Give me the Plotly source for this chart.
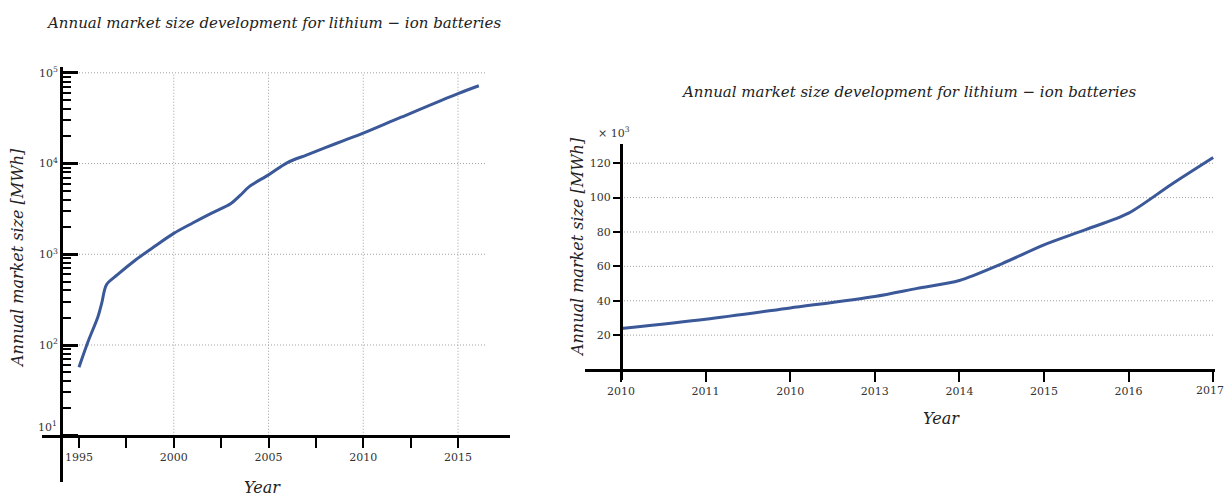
import plotly.graph_objects as go

# ---- data ---------------------------------------------------------------
# Long-run market size (MWh), logarithmic panel
years_long = [1995.0, 1995.5, 1996.0, 1996.2, 1996.45, 1997.0, 1998.0, 1999.0,
              2000.0, 2001.0, 2002.0, 2003.0, 2003.5, 2004.0, 2005.0, 2006.0,
              2007.0, 2008.0, 2009.0, 2010.0, 2012.0, 2015.0, 2016.1]
size_long = [57, 112, 205, 290, 462, 588, 870, 1225,
             1700, 2210, 2840, 3600, 4450, 5600, 7500, 10250,
             12400, 15000, 18000, 21600, 32400, 59000, 72000]

# Recent market size (thousand MWh), linear panel
years_recent = [2010, 2011, 2012, 2013, 2013.5, 2014, 2014.5, 2015, 2015.5, 2016, 2016.5, 2017]
size_recent = [23.8, 29.2, 35.8, 42.5, 47.2, 51.8, 61.5, 72.5, 81.5, 91.0, 107.5, 123.3]

# Tick values and labels
long_year_ticks = [1995, 1997.5, 2000, 2002.5, 2005, 2007.5, 2010, 2012.5, 2015]
long_year_text = ["1995", "", "2000", "", "2005", "", "2010", "", "2015"]
long_size_ticks = [10, 100, 1000, 10000, 100000]
long_size_text = ["", "10<sup>2</sup>", "10<sup>3</sup>", "10<sup>4</sup>", "10<sup>5</sup>"]
long_grid_years = [2000, 2005, 2010, 2015]
recent_year_ticks = [2010, 2011, 2012, 2013, 2014, 2015, 2016, 2017]
recent_year_text = ["2010", "2011", "2010", "2013", "2014", "2015", "2016", "2017"]
recent_size_ticks = [20, 40, 60, 80, 100, 120]

TITLE = "Annual market size development for lithium \u2212 ion batteries"
YTITLE = "Annual market size [MWh]"

# ---- page geometry (pixels) ---------------------------------------------
W, H = 1227, 496


def fx(p):
    return p / W


def fy(p):
    return 1 - p / H


LINE_COLOR = "#3b5998"
GRID_COLOR = "#a0a0a0"
SERIF = "DejaVu Serif"
tick_font = dict(family=SERIF, size=11, color="#333333")

fig = go.Figure()

fig.add_trace(go.Scatter(
    x=years_long, y=size_long, xaxis="x", yaxis="y", mode="lines",
    line=dict(color=LINE_COLOR, width=3, shape="spline", smoothing=0.9),
    showlegend=False, hoverinfo="x+y"))

fig.add_trace(go.Scatter(
    x=years_recent, y=size_recent, xaxis="x2", yaxis="y2", mode="lines",
    line=dict(color=LINE_COLOR, width=3, shape="spline", smoothing=0.8),
    showlegend=False, hoverinfo="x+y"))

# Left panel scales: 1995 at px 79, 18.95 px per year; 10^1 at px 435.5, 91.1 px per decade
ppy_l = 18.95
x_l0 = 1995 - (79 - 42) / ppy_l
x_l1 = 1995 + (510 - 79) / ppy_l
ppd = 91.1
y_l0 = 1 - (482 - 435.5) / ppd
y_l1 = 1 + (435.5 - 65) / ppd
axis_x_year = 1995 - (79 - 61) / ppy_l

# Right panel scales: 2010 at px 621, 84.6 px per year; 0 at px 369, 1.726 px per unit
ppy_r = 84.6
x_r0 = 2010 - (621 - 585) / ppy_r
x_r1 = 2010 + (1215 - 621) / ppy_r
ppu = 1.726
zero_r = 369.0
y_r0 = -(380 - zero_r) / ppu
y_r1 = (zero_r - 143) / ppu

# the last year label sits at the page edge; it is placed separately below
recent_axis_text = recent_year_text[:-1] + [""]

common = dict(showgrid=False, zeroline=False, linecolor="black", tickcolor="black")

fig.update_layout(
    width=W, height=H, margin=dict(l=0, r=0, t=0, b=0),
    paper_bgcolor="white", plot_bgcolor="rgba(0,0,0,0)",
    xaxis=dict(domain=[fx(42), fx(510)], range=[x_l0, x_l1], anchor="free",
               position=fy(435.5), showline=True, linewidth=3,
               ticks="outside", ticklen=10, tickwidth=2,
               tickmode="array", tickvals=long_year_ticks, ticktext=long_year_text,
               tickfont=tick_font, **common),
    xaxis3=dict(domain=[fx(42), fx(510)], range=[x_l0, x_l1], anchor="free",
                overlaying="x", position=fy(435.5), showline=False,
                ticks="inside", ticklen=10, tickwidth=2, showticklabels=False,
                tickmode="array", tickvals=long_year_ticks, **common),
    yaxis=dict(domain=[fy(482), fy(65)], type="log", range=[y_l0, y_l1],
               anchor="free", position=fx(61), showline=True, linewidth=3,
               ticks="inside", ticklen=15, tickwidth=2.5,
               tickmode="array", tickvals=long_size_ticks, ticktext=long_size_text,
               tickfont=tick_font,
               minor=dict(ticks="inside", ticklen=8, tickwidth=2, tickcolor="black",
                          tickmode="array",
                          tickvals=[m * 10 ** d for d in range(1, 5) for m in range(2, 10)]),
               **common),
    xaxis2=dict(domain=[fx(585), fx(1215)], range=[x_r0, x_r1], anchor="free",
                position=fy(zero_r), showline=True, linewidth=3,
                ticks="outside", ticklen=10, tickwidth=2,
                tickmode="array", tickvals=recent_year_ticks, ticktext=recent_axis_text,
                tickfont=tick_font, **common),
    xaxis4=dict(domain=[fx(585), fx(1215)], range=[x_r0, x_r1], anchor="free",
                overlaying="x2", position=fy(zero_r), showline=False,
                ticks="inside", ticklen=10, tickwidth=2, showticklabels=False,
                tickmode="array", tickvals=recent_year_ticks, **common),
    yaxis2=dict(domain=[fy(380), fy(143)], range=[y_r0, y_r1], anchor="free",
                position=fx(621), showline=True, linewidth=3,
                ticks="outside", ticklen=7, tickwidth=2,
                tickmode="array", tickvals=recent_size_ticks,
                tickfont=tick_font, **common),
    yaxis3=dict(domain=[fy(380), fy(143)], range=[y_r0, y_r1], anchor="free",
                overlaying="y2", position=fx(621), showline=False,
                ticks="inside", ticklen=7, tickwidth=2, showticklabels=False,
                tickmode="array", tickvals=recent_size_ticks, **common),
)

# ---- dotted grid lines ----------------------------------------------------
grid = dict(color=GRID_COLOR, width=1, dash="1px,2px")
for v in long_size_ticks[1:]:
    fig.add_shape(type="line", xref="x", yref="y", x0=axis_x_year, x1=2016.5,
                  y0=v, y1=v, line=grid, layer="below")
for yr in long_grid_years:
    fig.add_shape(type="line", xref="x", yref="y", x0=yr, x1=yr,
                  y0=long_size_ticks[0], y1=long_size_ticks[-1], line=grid, layer="below")
for v in recent_size_ticks:
    fig.add_shape(type="line", xref="x2", yref="y2", x0=2010, x1=x_r1,
                  y0=v, y1=v, line=grid, layer="below")

# ---- titles and labels ------------------------------------------------------
title_font = dict(family=SERIF, size=15, color="#222222")
label_font = dict(family=SERIF, size=16, color="#222222")


def note(text, x, y, font, xanchor="center", **kw):
    fig.add_annotation(text=text, x=fx(x), y=fy(y), xref="paper", yref="paper",
                       xanchor=xanchor, yanchor="middle",
                       showarrow=False, font=font, **kw)


note("<i>" + TITLE + "</i>", 273, 21, title_font)
note("<i>" + TITLE + "</i>", 908, 90, title_font)
note("<i>" + YTITLE + "</i>", 18, 257, label_font, textangle=-90)
note("<i>" + YTITLE + "</i>", 577, 246, label_font, textangle=-90)
note("<i>Year</i>", 262, 487, label_font)
note("<i>Year</i>", 941, 418, label_font)
note("\u00d7 10<sup>3</sup>", 614, 131, dict(family=SERIF, size=11, color="#333333"))
note("10<sup>1</sup>", 59, 426, tick_font, xanchor="right")

# last year label of the linear panel, kept inside the page edge
fig.add_annotation(text=recent_year_text[-1], x=recent_year_ticks[-1], xref="x2",
                   y=fy(390.5), yref="paper", xanchor="right", xshift=13,
                   yanchor="middle", showarrow=False, font=tick_font)

fig.write_html("out.html")
